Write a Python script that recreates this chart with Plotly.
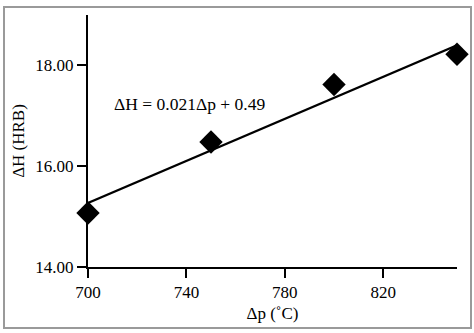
import plotly.graph_objects as go

# Data
dp_values = [700, 750, 800, 850]
dh_values = [15.07, 16.48, 17.62, 18.22]
fit_x = [700, 850]
fit_y = [15.27, 18.40]
x_ticks = [700, 740, 780, 820]
y_ticks = [14, 16, 18]
equation_text = "ΔH = 0.021Δp + 0.49"

W, H = 474, 333
L, R, T, B = 88, 17, 15, 66
pw, ph = W - L - R, H - T - B

def px(x):
    return (x - L) / pw

def py(y):
    return (H - B - y) / ph

font = dict(family="Liberation Serif, Times New Roman, serif", size=17, color="black")

fig = go.Figure()
fig.add_trace(go.Scatter(x=fit_x, y=fit_y, mode="lines",
                         line=dict(color="black", width=2.2), cliponaxis=False,
                         showlegend=False, hoverinfo="skip"))
fig.add_trace(go.Scatter(x=dp_values, y=dh_values, mode="markers",
                         marker=dict(symbol="diamond", size=18, color="black"),
                         cliponaxis=False, showlegend=False))

fig.update_layout(
    width=W, height=H,
    margin=dict(l=L, r=R, t=T, b=B),
    paper_bgcolor="white", plot_bgcolor="white",
    font=font,
    xaxis=dict(range=[700, 850], tickvals=x_ticks, showgrid=False, zeroline=False,
               showline=True, linecolor="black", linewidth=2,
               ticks="outside", ticklen=9, tickwidth=2, tickcolor="black",
               title=dict(text="Δp (˚C)", font=font, standoff=6)),
    yaxis=dict(range=[14, 19], tickvals=y_ticks, tickformat=".2f", showgrid=False,
               zeroline=False, showline=True, linecolor="black", linewidth=2,
               ticks="outside", ticklen=9, tickwidth=2, tickcolor="black",
               title=dict(text="ΔH (HRB)", font=font, standoff=6)),
    annotations=[dict(text=equation_text, x=px(189), y=py(104), xref="paper", yref="paper",
                      showarrow=False, font=dict(font, size=17.5),
                      xanchor="center", yanchor="middle")],
    shapes=[dict(type="rect", xref="paper", yref="paper",
                 x0=px(4), x1=px(471), y0=py(328), y1=py(7),
                 line=dict(color="#9a9a9a", width=2), fillcolor="rgba(0,0,0,0)", layer="below")],
)

fig.write_html("out.html", config={"displayModeBar": False},
               post_script="document.body.style.margin='0px';")
